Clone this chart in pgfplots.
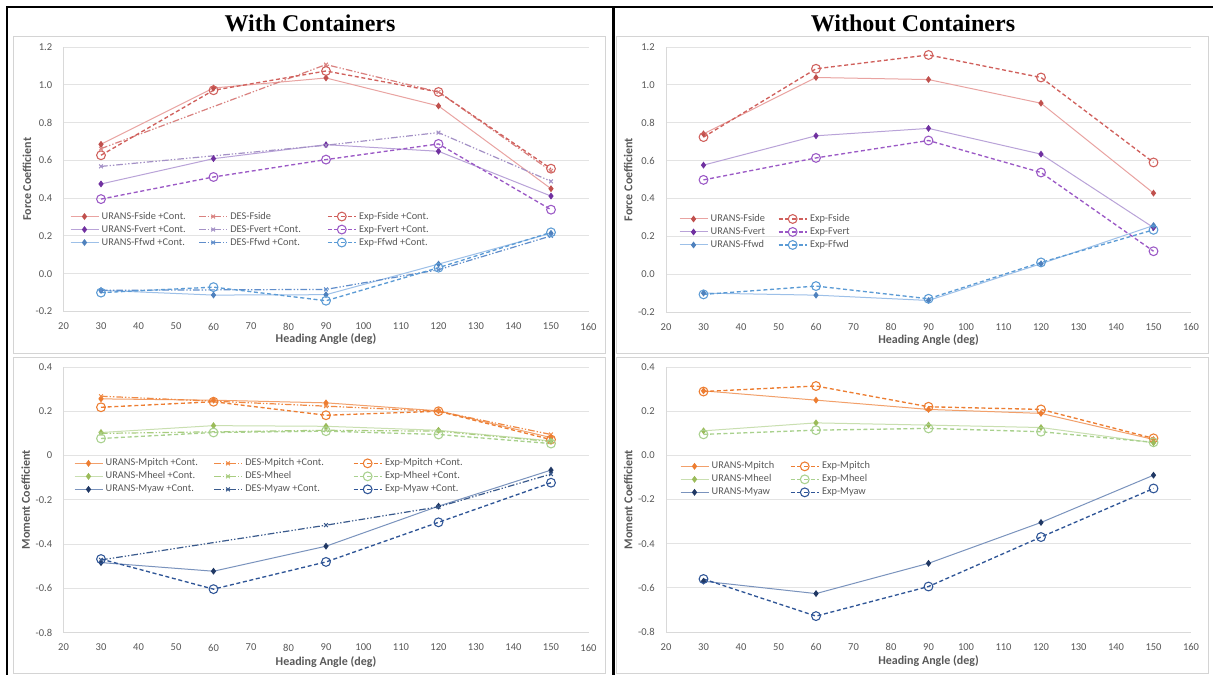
\documentclass[border=0pt]{standalone}
\usepackage{pgfplots}
\pgfplotsset{compat=1.18}
\usepackage{fontspec}
\setmainfont{Carlito}
\newfontfamily\titlefont{Liberation Serif}
\definecolor{txt}{HTML}{595959}
\definecolor{gridc}{HTML}{E3E3E3}
\definecolor{axc}{HTML}{D9D9D9}
\definecolor{framec}{HTML}{D4D4D4}
\definecolor{rM}{HTML}{C0504D}\definecolor{rU}{HTML}{E9A3A1}\definecolor{rD}{HTML}{D9817F}\definecolor{rE}{HTML}{D0605C}
\definecolor{pM}{HTML}{7030A0}\definecolor{pU}{HTML}{B9A3D8}\definecolor{pD}{HTML}{A491C6}\definecolor{pE}{HTML}{9B59C6}
\definecolor{bM}{HTML}{4F81BD}\definecolor{bU}{HTML}{9DC0E8}\definecolor{bD}{HTML}{5F8DCB}\definecolor{bE}{HTML}{5B9BD5}
\definecolor{oM}{HTML}{ED7D31}\definecolor{oU}{HTML}{F2A06B}\definecolor{oD}{HTML}{F08A45}\definecolor{oE}{HTML}{ED7D31}
\definecolor{gM}{HTML}{9BBB59}\definecolor{gU}{HTML}{C9DFB0}\definecolor{gD}{HTML}{A9CD80}\definecolor{gE}{HTML}{A9D18E}
\definecolor{dM}{HTML}{203864}\definecolor{dU}{HTML}{7A93BD}\definecolor{dD}{HTML}{3A5A8C}\definecolor{dE}{HTML}{2F5597}
\tikzset{
  urans/.style 2 args={draw=#1, line width=0.75pt, mark=diamond*, mark size=2.0pt, mark options={solid, fill=#2, draw=#2}},
  des/.style={draw=#1, line width=0.9pt, dash pattern=on 5pt off 1.5pt on 1pt off 1.5pt on 1pt off 1.5pt, mark=x, mark size=2pt, mark options={solid, draw=#1, line width=0.75pt}},
  expd/.style={draw=#1, line width=1pt, dash pattern=on 3pt off 2pt, mark=o, mark size=3.3pt, mark options={solid, draw=#1, fill=white, line width=0.8pt}},
}
\pgfplotsset{
  panel/.style={
    scale only axis, width=393.75pt,
    xmin=20, xmax=160, xtick={20,30,...,160},
    xticklabels={20,30,40,50,60,70,80,90,100,110,120,130,140,150,160},
    axis lines*=left, axis line style={draw=axc, line width=0.75pt, -},
    ymajorgrids, grid style={draw=gridc, line width=0.75pt},
    major tick length=0pt,
    tick label style={font=\fontsize{7.9}{9}\selectfont, text=txt},
    yticklabel style={inner sep=0pt, xshift=-8.25pt},
    xticklabel style={inner sep=0pt, yshift=-8.4pt},
    label style={font=\bfseries\fontsize{9}{10}\selectfont, text=txt},
    xlabel={Heading Angle (deg)},
    clip=false,
    legend cell align=left,
    legend image code/.code={\draw[mark repeat=2,mark phase=2,##1] plot coordinates {(0pt,0pt) (10.5pt,0pt) (21pt,0pt)};},
    legend style={anchor=north west, draw=none, fill=none, inner sep=0pt, outer sep=0pt,
      font=\fontsize{7.75}{9}\selectfont, text=txt, row sep=0.65pt, column sep=0pt,
      nodes={inner xsep=2pt, inner ysep=1pt, text height=5.5pt, text depth=1.6pt}},
  },
  forcey/.style={ymin=-0.2, ymax=1.2, ytick={-0.2,0,0.2,0.4,0.6,0.8,1.0,1.2},
    yticklabels={-0.2,0.0,0.2,0.4,0.6,0.8,1.0,1.2}, ylabel={Force Coefficient}},
}
\begin{document}
\begin{tikzpicture}
\fill[white] (0,0) rectangle (909.75pt,-506.25pt);
\path[use as bounding box] (0,0) rectangle (909.75pt,-506.25pt);
% frames
\draw[framec, line width=0.75pt] (9.75pt,-27pt) rectangle (453.75pt,-264.75pt);
\draw[framec, line width=0.75pt] (462pt,-27pt) rectangle (906pt,-264.75pt);
\draw[framec, line width=0.75pt] (9.75pt,-267.75pt) rectangle (453.75pt,-504.75pt);
\draw[framec, line width=0.75pt] (462pt,-267.75pt) rectangle (906pt,-504.75pt);
% table lines
\draw[black, line width=1.6pt] (4.5pt,-5.25pt) -- (909.75pt,-5.25pt);
\draw[black, line width=1.6pt] (5.25pt,-4.5pt) -- (5.25pt,-506.25pt);
\draw[black, line width=1.6pt] (460.1pt,-4.5pt) -- (460.1pt,-506.25pt);
% titles
\node[anchor=base, inner sep=0pt] at (232.5pt,-23.8pt) {\titlefont\bfseries\fontsize{18}{20}\selectfont With Containers};
\node[anchor=base, inner sep=0pt] at (684.75pt,-23.8pt) {\titlefont\bfseries\fontsize{18}{20}\selectfont Without Containers};

% ---------------- Top left
\begin{axis}[panel, forcey, at={(47.625pt,-233.625pt)}, anchor=south west, height=198.375pt,
  xlabel style={at={(axis description cs:0.5,-0.104)}, anchor=center},
  ylabel style={at={(axis description cs:-0.0695,0.5)}, anchor=center},
  legend columns=3,
  legend style={at={(axis description cs:0.0124,0.382)}}]
\addplot[urans={rU}{rM}] coordinates {(30,0.685)(60,0.983)(90,1.036)(120,0.888)(150,0.45)};
\addlegendentry{\makebox[70.6pt][l]{URANS-Fside +Cont.}}
\addplot[des=rD] coordinates {(30,0.662)(90,1.107)(120,0.962)(150,0.544)};
\addlegendentry{\makebox[70.6pt][l]{DES-Fside}}
\addplot[expd=rE] coordinates {(30,0.627)(60,0.971)(90,1.073)(120,0.962)(150,0.556)};
\addlegendentry{Exp-Fside +Cont.}
\addplot[urans={pU}{pM}] coordinates {(30,0.475)(60,0.609)(90,0.683)(120,0.648)(150,0.411)};
\addlegendentry{\makebox[70.6pt][l]{URANS-Fvert +Cont.}}
\addplot[des=pD] coordinates {(30,0.568)(90,0.68)(120,0.747)(150,0.489)};
\addlegendentry{\makebox[70.6pt][l]{DES-Fvert +Cont.}}
\addplot[expd=pE] coordinates {(30,0.395)(60,0.512)(90,0.604)(120,0.687)(150,0.339)};
\addlegendentry{Exp-Fvert +Cont.}
\addplot[urans={bU}{bM}] coordinates {(30,-0.088)(60,-0.113)(90,-0.111)(120,0.051)(150,0.214)};
\addlegendentry{\makebox[70.6pt][l]{URANS-Ffwd +Cont.}}
\addplot[des=bD] coordinates {(30,-0.088)(90,-0.083)(120,0.021)(150,0.2)};
\addlegendentry{\makebox[70.6pt][l]{DES-Ffwd +Cont.}}
\addplot[expd=bE] coordinates {(30,-0.1)(60,-0.071)(90,-0.143)(120,0.032)(150,0.219)};
\addlegendentry{Exp-Ffwd +Cont.}
\end{axis}

% ---------------- Top right
\begin{axis}[panel, forcey, at={(499.5pt,-234pt)}, anchor=south west, height=198.75pt,
  xlabel style={at={(axis description cs:0.5,-0.104)}, anchor=center},
  ylabel style={at={(axis description cs:-0.072,0.5)}, anchor=center},
  legend columns=2,
  legend style={at={(axis description cs:0.0248,0.374)}}]
\addplot[urans={rU}{rM}] coordinates {(30,0.741)(60,1.039)(90,1.028)(120,0.903)(150,0.428)};
\addlegendentry{\makebox[48.5pt][l]{URANS-Fside}}
\addplot[expd=rE] coordinates {(30,0.724)(60,1.085)(90,1.158)(120,1.039)(150,0.59)};
\addlegendentry{Exp-Fside}
\addplot[urans={pU}{pM}] coordinates {(30,0.576)(60,0.731)(90,0.77)(120,0.634)(150,0.246)};
\addlegendentry{\makebox[48.5pt][l]{URANS-Fvert}}
\addplot[expd=pE] coordinates {(30,0.498)(60,0.614)(90,0.706)(120,0.537)(150,0.121)};
\addlegendentry{Exp-Fvert}
\addplot[urans={bU}{bM}] coordinates {(30,-0.1)(60,-0.111)(90,-0.139)(120,0.055)(150,0.257)};
\addlegendentry{\makebox[48.5pt][l]{URANS-Ffwd}}
\addplot[expd=bE] coordinates {(30,-0.107)(60,-0.063)(90,-0.13)(120,0.062)(150,0.234)};
\addlegendentry{Exp-Ffwd}
\end{axis}

% ---------------- Bottom left
\begin{axis}[panel, at={(47.625pt,-474.375pt)}, anchor=south west, height=199.125pt,
  ymin=-0.8, ymax=0.4, ytick={-0.8,-0.6,-0.4,-0.2,0,0.2,0.4},
  yticklabels={-0.8,-0.6,-0.4,-0.2,0,0.2,0.4}, ylabel={Moment Coefficient},
  xlabel style={at={(axis description cs:0.5,-0.111)}, anchor=center},
  ylabel style={at={(axis description cs:-0.072,0.5)}, anchor=center},
  legend columns=3,
  legend style={at={(axis description cs:0.02,0.66)}}]
\addplot[urans={oU}{oM}] coordinates {(30,0.256)(60,0.25)(90,0.238)(120,0.202)(150,0.081)};
\addlegendentry{\makebox[78.8pt][l]{URANS-Mpitch +Cont.}}
\addplot[des=oD] coordinates {(30,0.268)(90,0.223)(120,0.2)(150,0.095)};
\addlegendentry{\makebox[78.8pt][l]{DES-Mpitch +Cont.}}
\addplot[expd=oE] coordinates {(30,0.218)(60,0.243)(90,0.182)(120,0.2)(150,0.072)};
\addlegendentry{Exp-Mpitch +Cont.}
\addplot[urans={gU}{gM}] coordinates {(30,0.104)(60,0.135)(90,0.132)(120,0.114)(150,0.066)};
\addlegendentry{\makebox[78.8pt][l]{URANS-Mheel +Cont.}}
\addplot[des=gD] coordinates {(30,0.1)(90,0.114)(120,0.11)(150,0.063)};
\addlegendentry{\makebox[78.8pt][l]{DES-Mheel}}
\addplot[expd=gE] coordinates {(30,0.077)(60,0.104)(90,0.11)(120,0.095)(150,0.054)};
\addlegendentry{Exp-Mheel +Cont.}
\addplot[urans={dU}{dM}] coordinates {(30,-0.484)(60,-0.523)(90,-0.41)(120,-0.229)(150,-0.066)};
\addlegendentry{\makebox[78.8pt][l]{URANS-Myaw +Cont.}}
\addplot[des=dD] coordinates {(30,-0.472)(90,-0.315)(120,-0.232)(150,-0.084)};
\addlegendentry{\makebox[78.8pt][l]{DES-Myaw +Cont.}}
\addplot[expd=dE] coordinates {(30,-0.468)(60,-0.604)(90,-0.481)(120,-0.302)(150,-0.123)};
\addlegendentry{Exp-Myaw +Cont.}
\end{axis}

% ---------------- Bottom right
\begin{axis}[panel, at={(499.5pt,-474pt)}, anchor=south west, height=198.75pt,
  ymin=-0.8, ymax=0.4, ytick={-0.8,-0.6,-0.4,-0.2,0,0.2,0.4},
  yticklabels={-0.8,-0.6,-0.4,-0.2,0.0,0.2,0.4}, ylabel={Moment Coefficient},
  xlabel style={at={(axis description cs:0.5,-0.111)}, anchor=center},
  ylabel style={at={(axis description cs:-0.072,0.5)}, anchor=center},
  legend columns=2,
  legend style={at={(axis description cs:0.0267,0.648)}}]
\addplot[urans={oU}{oM}] coordinates {(30,0.292)(60,0.25)(90,0.208)(120,0.19)(150,0.072)};
\addlegendentry{\makebox[56.8pt][l]{URANS-Mpitch}}
\addplot[expd=oE] coordinates {(30,0.289)(60,0.314)(90,0.22)(120,0.208)(150,0.077)};
\addlegendentry{Exp-Mpitch}
\addplot[urans={gU}{gM}] coordinates {(30,0.111)(60,0.147)(90,0.137)(120,0.126)(150,0.057)};
\addlegendentry{\makebox[56.8pt][l]{URANS-Mheel}}
\addplot[expd=gE] coordinates {(30,0.095)(60,0.114)(90,0.122)(120,0.107)(150,0.059)};
\addlegendentry{Exp-Mheel}
\addplot[urans={dU}{dM}] coordinates {(30,-0.57)(60,-0.626)(90,-0.489)(120,-0.304)(150,-0.09)};
\addlegendentry{\makebox[56.8pt][l]{URANS-Myaw}}
\addplot[expd=dE] coordinates {(30,-0.56)(60,-0.728)(90,-0.594)(120,-0.37)(150,-0.15)};
\addlegendentry{Exp-Myaw}
\end{axis}
\end{tikzpicture}
\end{document}
